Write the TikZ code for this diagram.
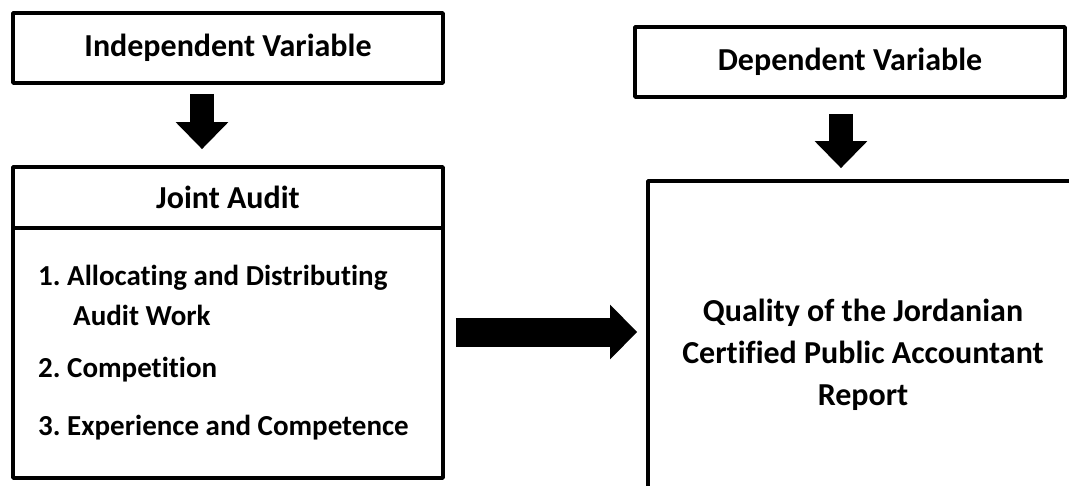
\documentclass[tikz,border=0pt]{standalone}
\usepackage{fontspec}
\setmainfont{Carlito}[Ligatures=NoCommon]
\usetikzlibrary{arrows.meta}
\frenchspacing

\begin{document}
\begin{tikzpicture}
[every node/.style={inner sep=0pt, font=\bfseries\fontsize{29}{40}\selectfont},
 box/.style={rectangle, draw=black, line width=3.75pt, line join=round, fill=white},
 headfont/.style={font=\bfseries\fontsize{32}{38}\selectfont},
 fatarrow/.style={line width=24pt, -{Triangle[length=27pt, width=51pt]}}]
\useasboundingbox (0pt, 0pt) rectangle (1069pt, -485pt);
\node (indep) [box, headfont, minimum width=430.0pt, minimum height=70.0pt] at (228.0pt, -48.0pt) {Independent Variable};
\node (dep) [box, headfont, minimum width=430.0pt, minimum height=70.0pt] at (850.0pt, -62.0pt) {Dependent Variable};
\node (items) [box, minimum width=430.0pt, minimum height=250.0pt] at (228.0pt, -353.0pt) {};
\node (joint) [box, headfont, minimum width=430.0pt, minimum height=61.0pt] at (228.0pt, -197.5pt) {Joint Audit};
\node (quality) [box, minimum width=430.0pt, minimum height=348.0pt, align=center, font=\bfseries\fontsize{32}{42}\selectfont] at (863.0pt, -355.0pt) {Quality of the Jordanian\\Certified Public Accountant\\Report};
\node (item1) [anchor=base west, align=left] at (38.0pt, -325.0pt) {1. Allocating and Distributing\\\hspace*{35pt}Audit Work};
\node (item2) [anchor=base west] at (38.0pt, -377.0pt) {2. Competition};
\node (item3) [anchor=base west] at (38.0pt, -435.0pt) {3. Experience and Competence};
\draw [fatarrow, shorten <=9pt, shorten >=16pt] ([xshift=-26pt]indep.south) to ([xshift=-26pt]joint.north);
\draw [fatarrow, shorten <=15pt, shorten >=11pt] ([xshift=-9pt]dep.south) to ([xshift=-9pt]dep.south |- quality.north);
\draw [line width=29pt, -{Triangle[length=27pt, width=53pt]}, shorten <=11pt, shorten >=9pt] ([yshift=21pt]items.east) to ([yshift=21pt]items.east -| quality.west);
\end{tikzpicture}
\end{document}
